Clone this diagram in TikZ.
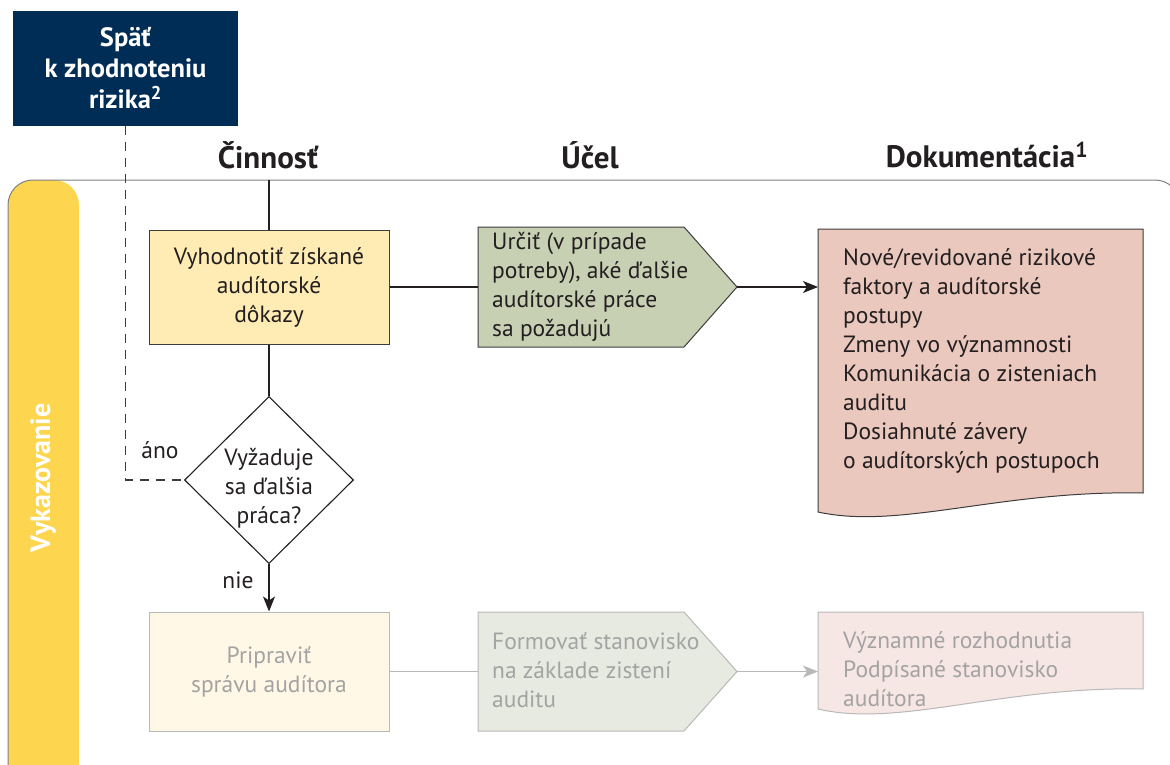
\documentclass[tikz,border=0pt]{standalone}
\usepackage{fontspec}
\setmainfont{PT Sans}
\usetikzlibrary{arrows.meta,calc,shapes.geometric}

\definecolor{navy}{RGB}{0,45,85}
\definecolor{lane}{RGB}{253,213,79}
\definecolor{ink}{RGB}{35,31,32}
\definecolor{edge}{RGB}{60,60,60}
\definecolor{framegray}{RGB}{128,128,128}
\definecolor{actfill}{RGB}{255,236,181}
\definecolor{purpfill}{RGB}{200,208,180}
\definecolor{docfill}{RGB}{235,200,190}
\definecolor{actpale}{RGB}{255,248,230}
\definecolor{purppale}{RGB}{231,234,224}
\definecolor{docpale}{RGB}{247,231,228}
\definecolor{fadetext}{RGB}{163,163,163}
\definecolor{fadeedge}{RGB}{184,184,184}

\begin{document}
\begin{tikzpicture}[x=1pt,y=-1pt,
  bodyfont/.style={font=\fontsize{23.5}{29}\selectfont},
  bodytext/.style={bodyfont, text=ink, inner sep=0},
  palebody/.style={bodyfont, text=fadetext, inner sep=0},
  head/.style={font=\fontsize{31}{36}\selectfont\bfseries, text=ink, inner sep=0},
  backbox/.style={fill=navy, text=white, minimum width=225, minimum height=115,
    inner sep=0, align=center, font=\fontsize{26.5}{31}\selectfont\bfseries},
  lanelabel/.style={text=white, font=\fontsize{28}{32}\selectfont\bfseries, inner sep=0},
  actbox/.style={draw=edge, line width=1, fill=actfill, minimum width=240,
    minimum height=114, align=center, bodyfont, text=ink, inner sep=0},
  actpalebox/.style={draw=fadeedge, line width=1, fill=actpale, minimum width=240,
    minimum height=119, align=center, bodyfont, text=fadetext, inner sep=0},
  holder/.style={inner sep=0, outer sep=0},
  purpshape/.style={draw=edge, line width=1, fill=purpfill},
  purppaleshape/.style={draw=fadeedge, line width=1, fill=purppale},
  docshape/.style={draw=edge, line width=1, fill=docfill},
  docpaleshape/.style={draw=fadeedge, line width=1, fill=docpale},
  decision/.style={diamond, draw=ink, line width=1.1, fill=white,
    minimum width=169, minimum height=167, inner sep=0},
  conn/.style={draw=ink, line width=1.6},
  arrow/.style={conn, -{Stealth[length=15, width=12, inset=4]}},
  paleconn/.style={draw=fadeedge, line width=1.6},
  palearrow/.style={paleconn, -{Stealth[length=15, width=12, inset=4]}},
  loopback/.style={draw=edge, line width=1.1, dash pattern=on 9pt off 7pt}
]
\useasboundingbox (0,0) rectangle (1170,765);

% swimlane band and frame
\fill[lane, rounded corners=25] (8,180) rectangle (79,800);
\draw[framegray, line width=1, rounded corners=25] (8,800) -- (8,180) -- (1180,180) -- (1180,800);
\node[lanelabel, rotate=90] (lanename) at (43,478) {Vykazovanie};

% return box
\node[backbox] (back) at (125.5,68.5) {Späť\\k zhodnoteniu\\rizika\textsuperscript{2}};

% column headings
\node[head] (hact) at (268,155) {Činnosť};
\node[head] (hpurp) at (590,155) {Účel};
\node[head] (hdoc) at (987,155) {Dokumentácia\textsuperscript{1}};

% --- upper row ---
\node[actbox] (act1) at (269,287) {Vyhodnotiť získané\\audítorské\\dôkazy};
\coordinate (lanetop) at (269,180);

\node[holder, minimum width=206, minimum height=120] (u1) at (581,287) {};
\coordinate (u1tip) at ($(u1.east)+(53,0)$);
\path[purpshape] (u1.north west) -- (u1.north east) -- (u1tip) -- (u1.south east) -- (u1.south west) -- cycle;
\node[bodytext, anchor=west, align=left] (u1text) at (492,287)
  {Určiť (v prípade\\potreby), aké ďalšie\\audítorské práce\\sa požadujú};

\node[holder, minimum width=325, minimum height=264] (d1) at (980.5,361) {};
\path[docshape] (d1.north west) -- (d1.north east) -- (d1.south east)
  .. controls (1000,490) and (900,530) .. ($(d1.south west)+(0,19)$) -- cycle;
\node[bodytext, anchor=west, align=left] (d1text) at (843,361)
  {Nové/revidované rizikové\\faktory a audítorské\\postupy\\Zmeny vo významnosti\\Komunikácia o zisteniach\\auditu\\Dosiahnuté závery\\o audítorských postupoch};

\node[decision] (dec) at (269,480) {};
\node[bodytext, align=center] (dectext) at (269,488) {Vyžaduje\\sa ďalšia\\práca?};
\node[bodytext] (yes) at (160,450) {áno};
\node[bodytext] (no) at (238,580) {nie};

% --- lower row ---
\node[actpalebox] (act2) at (269,671.5) {Pripraviť\\správu audítora};

\node[holder, minimum width=206, minimum height=119] (u2) at (581,671.5) {};
\coordinate (u2tip) at ($(u2.east)+(53,0)$);
\path[purppaleshape] (u2.north west) -- (u2.north east) -- (u2tip) -- (u2.south east) -- (u2.south west) -- cycle;
\node[palebody, anchor=west, align=left] (u2text) at (492,670)
  {Formovať stanovisko\\na základe zistení\\auditu};

\node[holder, minimum width=325, minimum height=77] (d2) at (980.5,650.5) {};
\path[docpaleshape] (d2.north west) -- (d2.north east) -- (d2.south east)
  .. controls (1000,686) and (900,728) .. ($(d2.south west)+(0,20)$) -- cycle;
\node[palebody, anchor=west, align=left] (d2text) at (843,669)
  {Významné rozhodnutia\\Podpísané stanovisko\\audítora};

% --- connectors ---
\draw[conn] (lanetop) -- (act1.north);
\draw[conn] (act1.east) -- (u1.west);
\draw[arrow] (u1tip) -- (u1tip -| d1.west);
\draw[conn] (act1.south) -- (dec.north);
\draw[arrow] (dec.south) -- (act2.north);
\draw[loopback] (back.south) |- (dec.west);
\draw[paleconn] (act2.east) -- (u2.west);
\draw[palearrow] (u2tip) -- (u2tip -| d2.west);
\end{tikzpicture}
\end{document}
